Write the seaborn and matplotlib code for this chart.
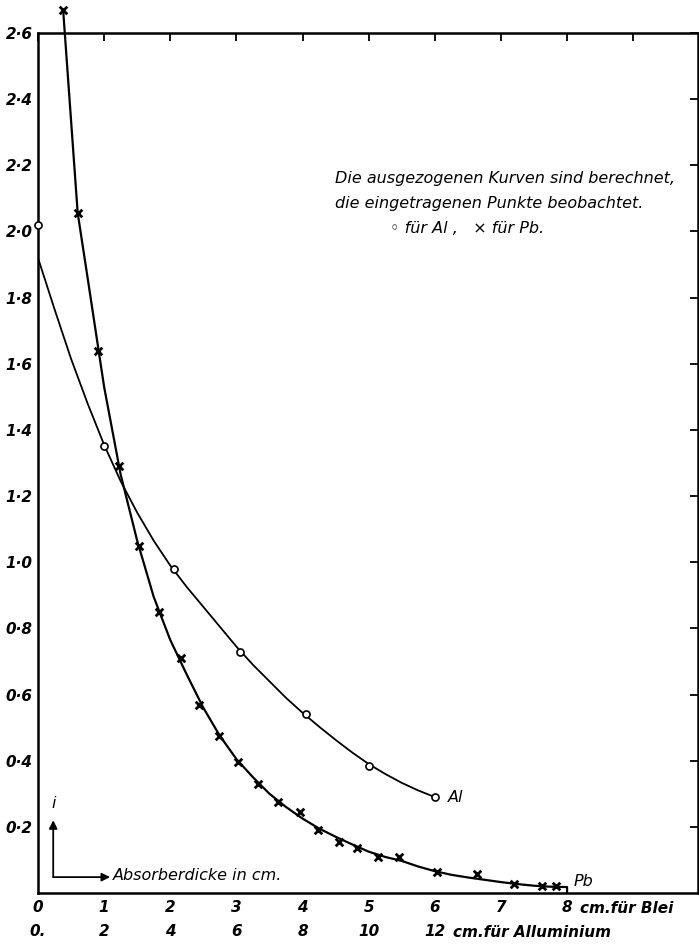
import matplotlib
matplotlib.use("Agg")
import matplotlib.pyplot as plt
import matplotlib.transforms as mtransforms
import seaborn as sns
import pandas as pd

# ---------------- data ----------------
# observed points (x on the lead scale in cm; Al thickness = 2 * x)
al_x_obs = [0.0, 1.0, 2.05, 3.05, 4.05, 5.0, 6.0]
al_y_obs = [2.02, 1.35, 0.98, 0.73, 0.54, 0.385, 0.29]

pb_x_obs = [0.38, 0.6, 0.91, 1.22, 1.52, 1.83, 2.16, 2.44, 2.74, 3.03, 3.33,
            3.63, 3.96, 4.24, 4.55, 4.83, 5.14, 5.46, 6.04, 6.64, 7.2, 7.62, 7.84]
pb_y_obs = [2.67, 2.056, 1.64, 1.29, 1.05, 0.85, 0.71, 0.568, 0.475, 0.396, 0.33,
            0.275, 0.245, 0.19, 0.154, 0.136, 0.109, 0.109, 0.063, 0.057, 0.027, 0.021, 0.021]

# calculated curves
al_curve_x = [0.0, 0.25, 0.5, 0.75, 1.0, 1.25, 1.5, 1.75, 2.0, 2.25, 2.5, 2.75, 3.0,
              3.25, 3.5, 3.75, 4.0, 4.25, 4.5, 4.75, 5.0, 5.25, 5.5, 5.75, 6.0]
al_curve_y = [1.92, 1.765, 1.615, 1.48, 1.355, 1.245, 1.15, 1.065, 0.99, 0.925, 0.865,
              0.805, 0.745, 0.69, 0.64, 0.59, 0.545, 0.503, 0.463, 0.425, 0.39, 0.36,
              0.333, 0.31, 0.29]

pb_curve_x = [0.38, 0.6, 0.75, 1.0, 1.25, 1.5, 1.75, 2.0, 2.25, 2.5, 2.75, 3.0, 3.25,
              3.5, 3.75, 4.0, 4.25, 4.5, 4.75, 5.0, 5.25, 5.5, 5.75, 6.0, 6.25, 6.5,
              6.75, 7.0, 7.25, 7.5, 7.75, 8.0, 8.0]
pb_curve_y = [2.67, 2.056, 1.86, 1.53, 1.265, 1.065, 0.895, 0.765, 0.66, 0.56, 0.475,
              0.405, 0.35, 0.30, 0.26, 0.225, 0.195, 0.17, 0.147, 0.125, 0.109, 0.097,
              0.08, 0.066, 0.055, 0.047, 0.04, 0.033, 0.027, 0.022, 0.019, 0.018, 0.0]

y_ticks = [0.2, 0.4, 0.6, 0.8, 1.0, 1.2, 1.4, 1.6, 1.8, 2.0, 2.2, 2.4, 2.6]
y_tick_labels = ["0·2", "0·4", "0·6", "0·8", "1·0", "1·2", "1·4", "1·6", "1·8",
                 "2·0", "2·2", "2·4", "2·6"]
pb_ticks = [0, 1, 2, 3, 4, 5, 6, 7, 8, 9]
pb_tick_labels = ["0", "1", "2", "3", "4", "5", "6", "7", "8", ""]
al_ticks = [0, 2, 4, 6, 8, 10, 12]
al_tick_labels = ["0.", "2", "4", "6", "8", "10", "12"]

note_lines = ["Die ausgezogenen Kurven sind berechnet,",
              "die eingetragenen Punkte beobachtet.",
              "◦ für Al ,   × für Pb."]

# ---------------- figure ----------------
sns.set_theme(style="white")
plt.rcParams["font.family"] = ["DejaVu Sans"]
plt.rcParams["text.color"] = "black"

W, H = 699, 951
fig = plt.figure(figsize=(W / 100, H / 100), dpi=100)
ax = fig.add_axes([38 / W, 58 / H, 660 / W, 860 / H])
ax.set_xlim(0, 9.98)
ax.set_ylim(0, 2.6)

al_curve = pd.DataFrame({"x": al_curve_x, "y": al_curve_y})
pb_curve = pd.DataFrame({"x": pb_curve_x, "y": pb_curve_y})
al_obs = pd.DataFrame({"x": al_x_obs, "y": al_y_obs})
pb_obs = pd.DataFrame({"x": pb_x_obs, "y": pb_y_obs})

sns.lineplot(data=al_curve, x="x", y="y", ax=ax, color="black", lw=1.3,
             sort=False, estimator=None)
sns.lineplot(data=pb_curve, x="x", y="y", ax=ax, color="black", lw=1.6,
             sort=False, estimator=None, clip_on=False)
sns.scatterplot(data=al_obs, x="x", y="y", ax=ax, marker="o", s=26,
                facecolor="white", edgecolor="black", linewidth=1.2,
                zorder=5, clip_on=False)
sns.scatterplot(data=pb_obs, x="x", y="y", ax=ax, marker="x", s=30,
                color="black", linewidth=2.0, zorder=5, clip_on=False)

ax.set_xlabel("")
ax.set_ylabel("")

for sp in ax.spines.values():
    sp.set_color("black")
    sp.set_linewidth(1.8)

tick_font = dict(style="italic", weight="bold", size=11, color="black")
ax.set_yticks(y_ticks)
ax.set_yticklabels(y_tick_labels, fontdict=tick_font)
ax.set_xticks(pb_ticks)
ax.set_xticklabels(pb_tick_labels, fontdict=tick_font)
ax.tick_params(axis="both", which="major", direction="in", top=True, right=True,
               length=6, width=1.3, color="black", labelcolor="black")
ax.tick_params(axis="y", pad=4)
ax.tick_params(axis="x", pad=5)

sec = ax.secondary_xaxis("bottom", functions=(lambda v: 2 * v, lambda v: v / 2))
sec.set_xticks(al_ticks)
sec.set_xticklabels(al_tick_labels, fontdict=tick_font)
sec.tick_params(length=0, pad=22, labelcolor="black")
sec.spines["bottom"].set_visible(False)

blend = mtransforms.blended_transform_factory(ax.transData, ax.transAxes)
ax.text(8.2, -0.0175, "cm.für Blei", transform=blend, ha="left", va="center",
        **tick_font)
ax.text(6.27, -0.0465, "cm.für Alluminium", transform=blend, ha="left",
        va="center", **tick_font)

# curve labels
txt = dict(style="italic", size=11.5, color="black")
ax.text(6.2, 0.29, "Al", ha="left", va="center", **txt)
ax.text(8.1, 0.035, "Pb", ha="left", va="center", **txt)

# note
ax.text(4.49, 2.16, note_lines[0], ha="left", va="center", **txt)
ax.text(4.49, 2.086, note_lines[1], ha="left", va="center", **txt)
ax.text(5.33, 2.01, note_lines[2], ha="left", va="center", **txt)

# axis direction symbols
ax.annotate("", xy=(0.23, 0.22), xytext=(0.23, 0.048),
            arrowprops=dict(arrowstyle="-|>", color="black", lw=1.3,
                            shrinkA=0, shrinkB=0, mutation_scale=12))
ax.annotate("", xy=(1.09, 0.048), xytext=(0.23, 0.048),
            arrowprops=dict(arrowstyle="-|>", color="black", lw=1.3,
                            shrinkA=0, shrinkB=0, mutation_scale=12))
ax.text(0.23, 0.27, "i", ha="center", va="center", **txt)
ax.text(1.13, 0.054, "Absorberdicke in cm.", ha="left", va="center", **txt)

fig.savefig("out.png", dpi=100, facecolor="white")
